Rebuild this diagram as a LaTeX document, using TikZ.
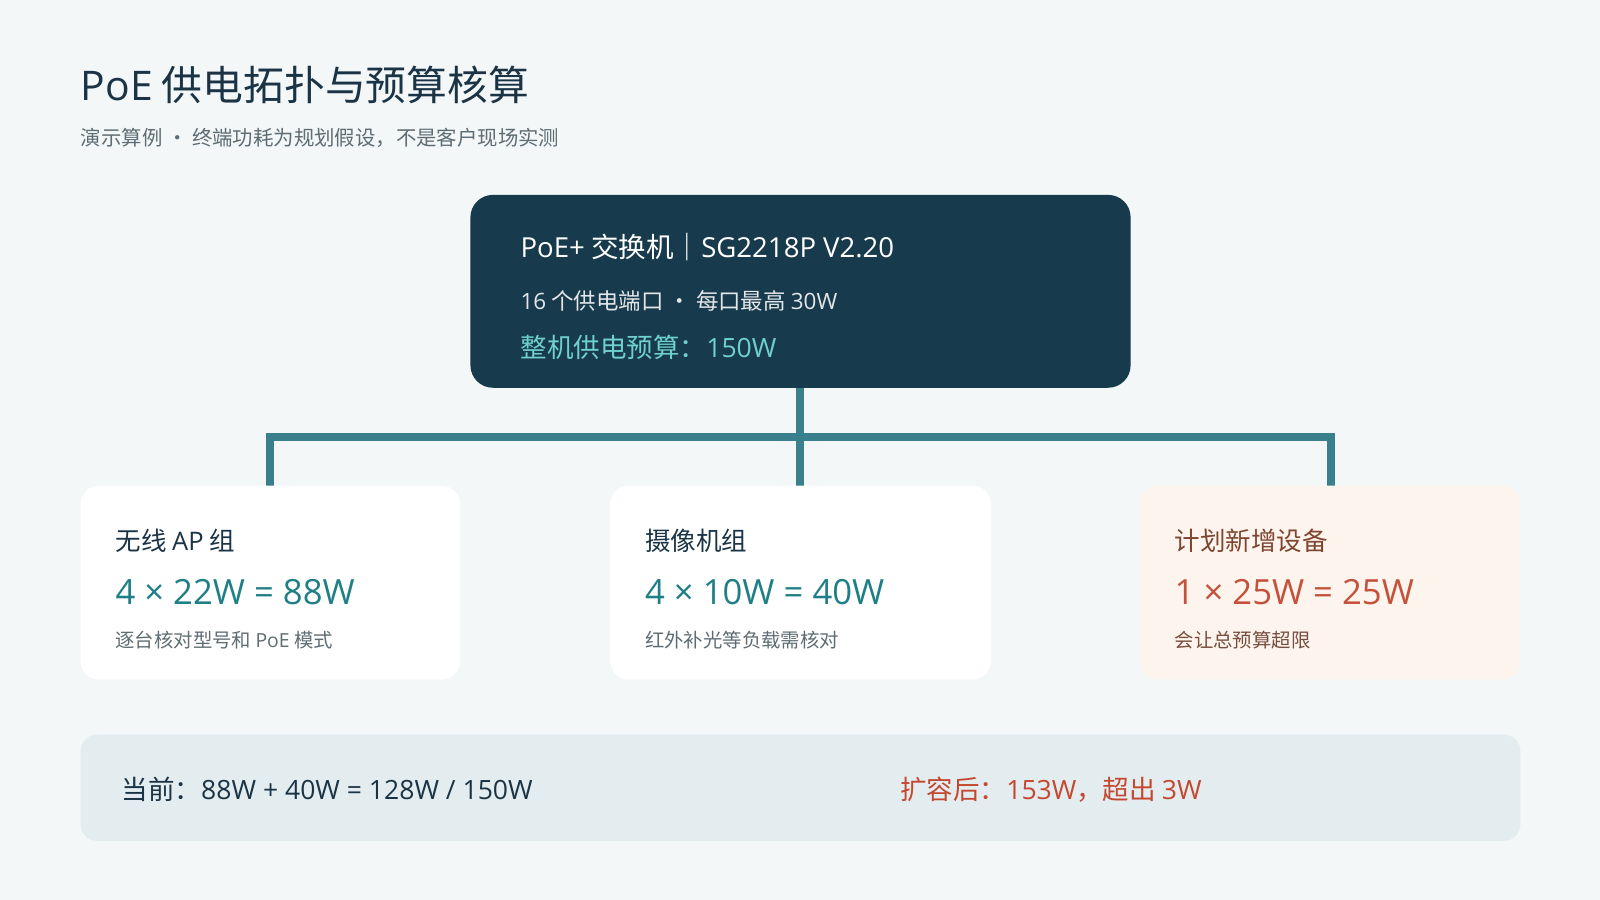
\documentclass[tikz,border=0pt]{standalone}
\usepackage{fontspec}
\setmainfont{Noto Sans CJK SC}
\newfontfamily\lat{Open Sans}
\definecolor{bg}{HTML}{F3F7F8}
\definecolor{navy}{HTML}{173A4C}
\definecolor{ttl}{HTML}{1B3445}
\definecolor{sub}{HTML}{5E6D74}
\definecolor{line}{HTML}{3A7F8C}
\definecolor{lt}{HTML}{6FD0CC}
\definecolor{val}{HTML}{1F7F86}
\definecolor{org}{HTML}{FDF4EE}
\definecolor{orgt}{HTML}{7E4630}
\definecolor{orgv}{HTML}{C4523A}
\definecolor{bar}{HTML}{E3EDF0}
\definecolor{red}{HTML}{C4472F}
\begin{document}
\begin{tikzpicture}[x=1pt,y=-1pt,
  txt/.style={anchor=west,inner sep=0},
  card/.style={rounded corners=18pt},
  conn/.style={line width=8pt,draw=line}]
\useasboundingbox (0,0) rectangle (1568,882);
\fill[bg] (0,0) rectangle (1568,882);
\node[txt,text=ttl,font=\fontsize{40}{44}\selectfont] (t) at (79,83) {{\lat PoE} 供电拓扑与预算核算};
\node[txt,text=sub,font=\fontsize{20}{24}\selectfont] (s) at (79,135) {演示算例 · 终端功耗为规划假设，不是客户现场实测};
% connectors
\coordinate (top) at (784,380);
\coordinate (mid) at (784,428);
\coordinate (l) at (265,428);
\coordinate (r) at (1304,428);
\coordinate (lb) at (265,476);
\coordinate (mb) at (784,476);
\coordinate (rb) at (1304,476);
\draw[conn] (top)--(mb);
\draw[conn,line cap=rect] (lb)--(l)--(r)--(rb);
\draw[conn] (l)--(lb);
% top box
\fill[navy,rounded corners=22pt] (461,191) rectangle (1108,380);
\node[txt,text=white,font=\fontsize{27}{30}\selectfont] (a1) at (510,242) {{\lat PoE+} 交换机｜{\lat SG2218P V2.20}};
\node[txt,text=white!88!navy,font=\fontsize{22}{26}\selectfont] (a2) at (510,295) {{\lat 16} 个供电端口 · 每口最高 {\lat 30W}};
\node[txt,text=lt,font=\fontsize{26}{30}\selectfont] (a3) at (510,340) {整机供电预算：{\lat 150W}};
% cards
\fill[white,card] (79,476) rectangle (451,666);
\fill[white,card] (598,476) rectangle (971,666);
\fill[org,card] (1117,476) rectangle (1490,666);
\node[txt,text=ttl,font=\fontsize{25}{28}\selectfont] (c1) at (113,530) {无线 {\lat AP} 组};
\node[txt,text=val,font=\fontsize{34}{38}\selectfont\lat] (v1) at (113,580) {4 × 22W = 88W};
\node[txt,text=sub,font=\fontsize{19}{22}\selectfont] (n1) at (113,627) {逐台核对型号和 {\lat PoE} 模式};
\node[txt,text=ttl,font=\fontsize{25}{28}\selectfont] (c2) at (632,530) {摄像机组};
\node[txt,text=val,font=\fontsize{34}{38}\selectfont\lat] (v2) at (632,580) {4 × 10W = 40W};
\node[txt,text=sub,font=\fontsize{19}{22}\selectfont] (n2) at (632,627) {红外补光等负载需核对};
\node[txt,text=orgt,font=\fontsize{25}{28}\selectfont] (c3) at (1151,530) {计划新增设备};
\node[txt,text=orgv,font=\fontsize{34}{38}\selectfont\lat] (v3) at (1151,580) {1 × 25W = 25W};
\node[txt,text=orgt!80!sub,font=\fontsize{19}{22}\selectfont] (n3) at (1151,627) {会让总预算超限};
% bottom bar
\fill[bar,rounded corners=16pt] (79,720) rectangle (1490,824);
\node[txt,text=ttl,font=\fontsize{26}{30}\selectfont] (b1) at (119,774) {当前：{\lat 88W + 40W = 128W / 150W}};
\node[txt,text=red,font=\fontsize{26}{30}\selectfont] (b2) at (882,774) {扩容后：{\lat 153W}，超出 {\lat 3W}};
\end{tikzpicture}
\end{document}
